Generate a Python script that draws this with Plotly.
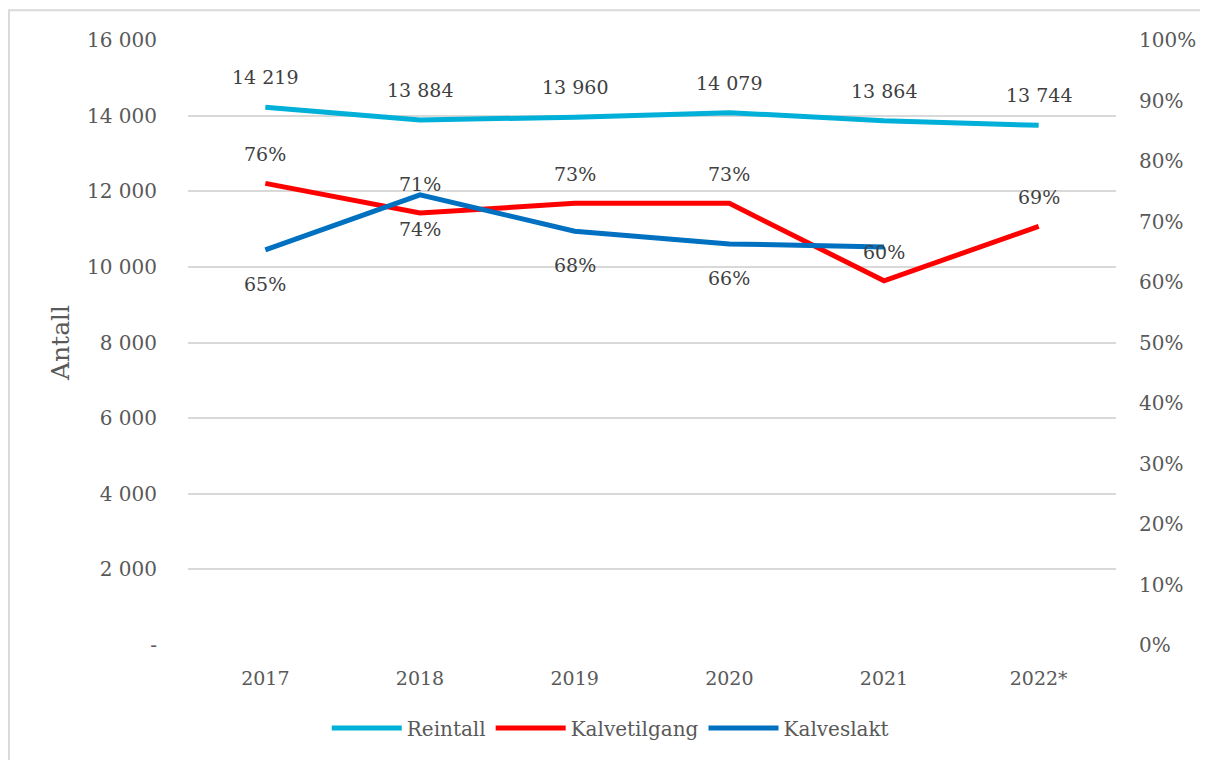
import plotly.graph_objects as go

years = ["2017", "2018", "2019", "2020", "2021", "2022*"]
reintall = [14219, 13884, 13960, 14079, 13864, 13744]
kalvetilgang = [76.3, 71.4, 73.0, 73.0, 60.2, 69.2]
kalveslakt = [65.3, 74.4, 68.4, 66.3, 65.8, None]

FONT = "DejaVu Serif"
GRAY = "#595959"
LABEL = "#404040"

def pct(v):
    return f"{round(v):d}%"

def thou(v):
    return f"{v:,}".replace(",", " ")

fig = go.Figure()
fig.add_trace(go.Scatter(
    x=years, y=reintall, name="Reintall", mode="lines",
    line=dict(color="#00b0d8", width=5)))
fig.add_trace(go.Scatter(
    x=years, y=kalvetilgang, name="Kalvetilgang", mode="lines", yaxis="y2",
    line=dict(color="#ff0000", width=5)))
fig.add_trace(go.Scatter(
    x=years, y=kalveslakt, name="Kalveslakt", mode="lines", yaxis="y2",
    line=dict(color="#0070c0", width=5)))

annotations = []
for i, v in enumerate(reintall):
    annotations.append(dict(x=i, y=v, xref="x", yref="y", text=thou(v), showarrow=False,
                            yshift=30, font=dict(family=FONT, size=19, color=LABEL)))
for i, v in enumerate(kalvetilgang):
    annotations.append(dict(x=i, y=v, xref="x", yref="y2", text=pct(v), showarrow=False,
                            yshift=29, font=dict(family=FONT, size=19, color=LABEL)))
for i, v in enumerate(kalveslakt):
    if v is None or i == 4:
        continue
    annotations.append(dict(x=i, y=v, xref="x", yref="y2", text=pct(v), showarrow=False,
                            yshift=-34, font=dict(family=FONT, size=19, color=LABEL)))

fig.update_layout(
    width=1200, height=752,
    margin=dict(l=180, r=88, t=32, b=111),
    paper_bgcolor="white", plot_bgcolor="white",
    font=dict(family=FONT, size=19, color=GRAY),
    showlegend=True,
    legend=dict(orientation="h", x=0.455, xanchor="center", y=-0.105, yanchor="top",
                font=dict(family=FONT, size=20, color=GRAY), itemwidth=70,
                traceorder="normal"),
    xaxis=dict(type="category", range=[-0.5, 5.5], showgrid=False, showline=False, ticks="",
               tickfont=dict(family=FONT, size=19, color=GRAY), ticklabelstandoff=20),
    yaxis=dict(range=[0, 16000],
               tickvals=[0, 2000, 4000, 6000, 8000, 10000, 12000, 14000, 16000],
               ticktext=["-", "2 000", "4 000", "6 000", "8 000", "10 000", "12 000", "14 000", "16 000"],
               gridcolor="#d9d9d9", gridwidth=2, zeroline=False, showline=False,
               tickfont=dict(family=FONT, size=20, color=GRAY), ticklabelstandoff=30,
               title=dict(text="Antall", font=dict(family=FONT, size=25, color=GRAY), standoff=10)),
    yaxis2=dict(range=[0, 100], dtick=10, overlaying="y", side="right", showgrid=False,
                zeroline=False, showline=False, ticksuffix="%",
                tickfont=dict(family=FONT, size=20, color=GRAY), ticklabelstandoff=22),
    annotations=annotations,
    shapes=[dict(type="rect", xref="paper", yref="paper", x0=-0.193, x1=1.12, y0=-0.22, y1=1.049,
                 line=dict(color="#d9d9d9", width=2), fillcolor="rgba(0,0,0,0)", layer="below")],
)

fig.write_html("out.html")
